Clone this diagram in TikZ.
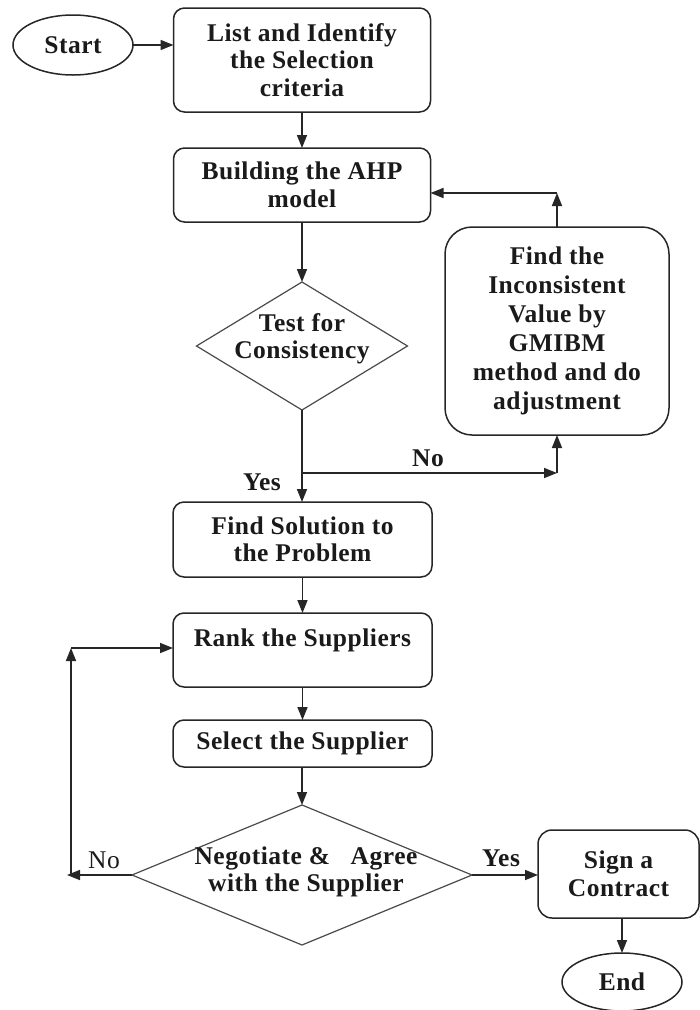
\documentclass[tikz,border=0pt]{standalone}
\usepackage{fontspec}
\setmainfont[LetterSpace=2]{Liberation Serif}
\usetikzlibrary{shapes.geometric,arrows.meta}
\definecolor{lin}{HTML}{262626}
\definecolor{dlin}{HTML}{4A4A4A}
\definecolor{txt}{HTML}{1A1A1A}
\begin{document}
\begin{tikzpicture}[x=1pt,y=-1pt,
  every node/.style={inner sep=0pt, outer sep=0pt, text=txt},
  bfont/.style={font=\fontsize{25.5}{27.5}\bfseries\selectfont},
  box/.style={draw=lin, line width=1.5pt, rounded corners=11pt, align=center, bfont},
  oval/.style={draw=lin, line width=1.5pt, ellipse, bfont},
  dia/.style={draw=dlin, line width=1.2pt, diamond},
  arr/.style={draw=lin, line width=1.6pt, -{Triangle[length=13pt,width=10pt]}},
  lbl/.style={bfont}
]
\useasboundingbox (0,0) rectangle (700,1010);

% nodes
\node[oval, minimum width=120pt, minimum height=60pt] (start) at (73,45) {Start};
\node[box, minimum width=257pt, minimum height=104pt] (box1) at (302,60) {List and Identify\\the Selection\\criteria};
\node[box, minimum width=257pt, minimum height=74pt] (box2) at (302,185) {Building the AHP\\model};
\node[dia, minimum width=211pt, minimum height=128pt] (d1) at (302,346) {};
\node[bfont, align=center] (d1t) at (302,339) {Test for\\Consistency};
\node[box, rounded corners=27pt, minimum width=224pt, minimum height=208pt,
      font=\fontsize{25.5}{29}\bfseries\selectfont] (fix) at (557,331)
      {Find the\\Inconsistent\\Value by\\GMIBM\\method and do\\adjustment};
\node[box, minimum width=259pt, minimum height=75pt] (find) at (302.5,539.5) {Find Solution to\\the Problem};
\node[box, minimum width=259pt, minimum height=74pt] (rank) at (302.5,650) {Rank the Suppliers\\[-2pt]~};
\node[box, minimum width=259pt, minimum height=47pt] (select) at (302.5,743.5) {Select the Supplier};
\node[dia, minimum width=340pt, minimum height=140pt] (d2) at (302,875) {};
\node[bfont, align=center] (d2t) at (306,872) {Negotiate \&\ \ \ Agree\\with the Supplier};
\node[box, rounded corners=14pt, minimum width=161pt, minimum height=88pt] (sign) at (618.5,874) {Sign a\\Contract};
\node[oval, minimum width=120pt, minimum height=58pt] (end) at (622,982) {End};

% helper coordinates
\coordinate (c1) at (557,193);
\coordinate (j1) at (302,473);
\coordinate (c2) at (557,473);
\coordinate (c3) at (67,875);
\coordinate (c4) at (71,648);

% connectors
\draw[arr] (start.east) -- (box1.west |- start.east);
\draw[arr] (box1) -- (box2);
\draw[arr] (box2) -- (d1.north);
\draw[arr] (d1.south) -- (find.north -| d1.south);
\draw[arr] (j1) -- (c2);
\draw[arr] (c2) -- (fix.south);
\draw[arr] (fix.north) -- (c1);
\draw[arr] (c1) -- (box2.east |- c1);
\draw[arr] (find) -- (rank);
\draw[arr] (rank) -- (select);
\draw[arr] (select.south -| d2.north) -- (d2.north);
\draw[arr] (d2.west) -- (c3);
\draw[arr] (c3 -| c4) -- (c4);
\draw[arr] (c4) -- (rank.west |- c4);
\draw[arr] (d2.east) -- (sign.west |- d2.east);
\draw[arr] (end.north |- sign.south) -- (end.north);

% labels
\node[lbl] (no1) at (428,458) {No};
\node[lbl] (yes1) at (262,482) {Yes};
\node[font=\fontsize{25.5}{27}\selectfont] (no2) at (104,860) {No};
\node[lbl] (yes2) at (501,858) {Yes};
\end{tikzpicture}
\end{document}
